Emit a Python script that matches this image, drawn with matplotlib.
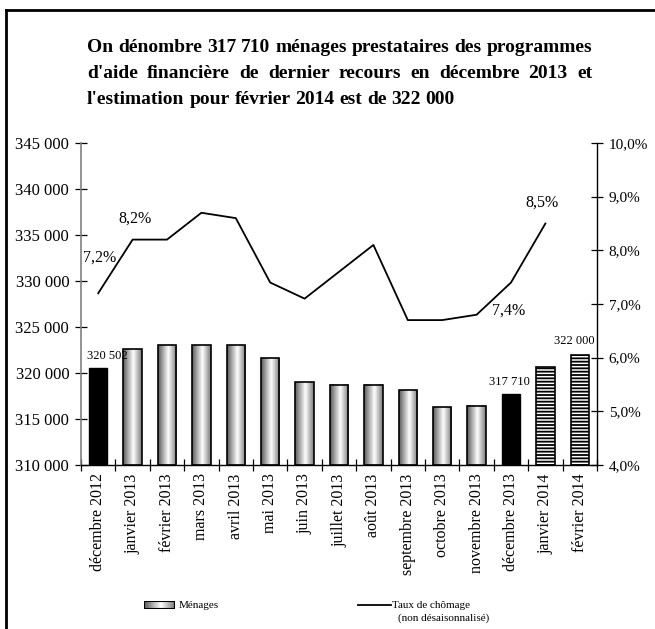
import numpy as np
import matplotlib
matplotlib.use("Agg")
import matplotlib.pyplot as plt
from matplotlib.colors import LinearSegmentedColormap
from matplotlib.patches import Rectangle
from matplotlib.lines import Line2D

# ---------------- data ----------------
categories = ["décembre 2012", "janvier 2013", "février 2013", "mars 2013", "avril 2013",
              "mai 2013", "juin 2013", "juillet 2013", "août 2013", "septembre 2013",
              "octobre 2013", "novembre 2013", "décembre 2013", "janvier 2014", "février 2014"]
menages = [320502, 322600, 323000, 323000, 323000, 321600, 319000, 318700, 318700,
           318150, 316300, 316450, 317710, 320600, 322000]
highlighted = ["décembre 2012", "décembre 2013"]
estimates = ["janvier 2014", "février 2014"]
chomage = [7.2, 8.2, 8.2, 8.7, 8.6, 7.4, 7.1, 7.6, 8.1, 6.7, 6.7, 6.8, 7.4, 8.5]
chomage_labels = {0: "7,2%", 1: "8,2%", 12: "7,4%", 13: "8,5%"}
bar_labels = {0: "320 502", 12: "317 710", 14: "322 000"}
left_ticks = [310000, 315000, 320000, 325000, 330000, 335000, 340000, 345000]
right_ticks = [4.0, 5.0, 6.0, 7.0, 8.0, 9.0, 10.0]
title_lines = ["On dénombre 317 710 ménages prestataires des programmes",
               "d'aide financière de dernier recours en décembre 2013 et",
               "l'estimation pour février 2014 est de 322 000"]

SERIF = ["Liberation Serif", "DejaVu Serif"]
plt.rcParams["font.family"] = SERIF
plt.rcParams["hatch.linewidth"] = 1.3
plt.rcParams["hatch.color"] = "#6e6e6e"

W, H = 655, 629
fig = plt.figure(figsize=(W / 100, H / 100), dpi=100)
ax = fig.add_axes([81 / W, 1 - 465 / H, (597 - 81) / W, (465 - 143) / H])

cyl = LinearSegmentedColormap.from_list("cyl", [(0, "#5a5a5a"), (0.55, "#ffffff"), (1, "#7a7a7a")])
grad = np.linspace(0, 1, 64).reshape(1, -1)

bw = 0.54
x = np.arange(len(categories))
ymin = 310000
for i, (c, v) in enumerate(zip(categories, menages)):
    if c in highlighted:
        ax.bar(i, v - ymin, bottom=ymin, width=bw, color="black", edgecolor="black", lw=1, zorder=3)
    elif c in estimates:
        ax.bar(i, v - ymin, bottom=ymin, width=bw, facecolor="white", edgecolor="black",
               hatch="-----", lw=1.2, zorder=3)
    else:
        ax.imshow(grad, cmap=cyl, aspect="auto", extent=(i - bw / 2, i + bw / 2, ymin, v),
                  zorder=2, interpolation="bilinear")
        ax.bar(i, v - ymin, bottom=ymin, width=bw, fill=False, edgecolor="black", lw=1.2, zorder=3)

for i, lab in bar_labels.items():
    offs = {0: (9, 12), 12: (-2, 12), 14: (-5, 14)}[i]
    ax.annotate(lab, (i, menages[i]), xytext=offs, textcoords="offset pixels",
                ha="center", va="center", fontsize=9, zorder=5)

ax.set_xlim(-0.5, len(categories) - 0.5)
ax.set_ylim(310000, 345000)
ax.set_yticks(left_ticks)
ax.set_yticklabels([f"{t:,}".replace(",", " ") for t in left_ticks])
ax.set_xticks(x)
ax.set_xticklabels(categories, rotation=90, fontsize=11.5)
ax.set_xticks(np.arange(-0.5, len(categories), 1), minor=True)
ax.tick_params(axis="x", which="major", length=0, pad=6)
ax.tick_params(axis="x", which="minor", direction="inout", length=8, width=0.9)
ax.tick_params(axis="y", direction="inout", length=9, width=0.9, labelsize=12, pad=4)
for s in ["top", "right"]:
    ax.spines[s].set_visible(False)
ax.spines["left"].set_color("#808080")
ax.spines["left"].set_linewidth(1.2)
ax.spines["bottom"].set_linewidth(1.0)

ax2 = ax.twinx()
ax2.plot(x[:len(chomage)], chomage, color="black", lw=1.3, zorder=4)
ax2.set_ylim(4, 10)
ax2.set_yticks(right_ticks)
ax2.set_yticklabels([f"{t:.1f}".replace(".", ",") + "%" for t in right_ticks])
ax2.tick_params(axis="y", direction="inout", length=9, width=0.9, labelsize=11, pad=4)
for s in ["top", "left", "bottom"]:
    ax2.spines[s].set_visible(False)
ax2.spines["right"].set_linewidth(1.0)
loffs = {0: (1, 36), 1: (2, 21), 12: (-2, -28), 13: (-3.5, 21)}
for i, lab in chomage_labels.items():
    ax2.annotate(lab, (i, chomage[i]), xytext=loffs[i], textcoords="offset pixels",
                 ha="center", va="center", fontsize=11.5)

# ---------------- title (justified) ----------------
renderer = fig.canvas.get_renderer()
L, R = 87, 592
ys = [47, 73, 99]
TFS = 14
for li, (line, yy) in enumerate(zip(title_lines, ys)):
    words = line.split(" ")
    texts = [fig.text(0, 1 - yy / H, w, fontsize=TFS, fontweight="bold", ha="left", va="center")
             for w in words]
    widths = [t.get_window_extent(renderer).width for t in texts]
    sp = fig.text(0, 0, "a b", fontsize=TFS, fontweight="bold")
    sp2 = fig.text(0, 0, "ab", fontsize=TFS, fontweight="bold")
    natural = sp.get_window_extent(renderer).width - sp2.get_window_extent(renderer).width
    sp.remove(); sp2.remove()
    if li < len(title_lines) - 1:
        gap = max((R - L - sum(widths)) / (len(words) - 1), natural * 0.6)
    else:
        gap = natural
    xx = L
    for t, w in zip(texts, widths):
        t.set_x(xx / W)
        xx += w + gap

# ---------------- legend ----------------
lax = fig.add_axes([144 / W, 1 - 609 / H, 31 / W, 8 / H])
lax.imshow(grad, cmap=cyl, aspect="auto", extent=(0, 1, 0, 1), interpolation="bilinear")
lax.add_patch(Rectangle((0, 0), 1, 1, fill=False, edgecolor="black", lw=1.5))
lax.set_xlim(0, 1); lax.set_ylim(0, 1); lax.axis("off")
fig.text(179 / W, 1 - 605 / H, "Ménages", fontsize=8, ha="left", va="center")
fig.add_artist(Line2D([358 / W, 391 / W], [1 - 605 / H, 1 - 605 / H], color="black", lw=1.3))
fig.text(392 / W, 1 - 605 / H, "Taux de chômage", fontsize=8, ha="left", va="center")
fig.text(398 / W, 1 - 618 / H, "(non désaisonnalisé)", fontsize=8, ha="left", va="center")

# ---------------- frame ----------------
fig.add_artist(Line2D([6 / W, 6 / W], [0, 1 - 10 / H], color="black", lw=2))
fig.add_artist(Line2D([6 / W, 1], [1 - 10 / H, 1 - 10 / H], color="black", lw=2))

fig.savefig("out.png", dpi=100)
